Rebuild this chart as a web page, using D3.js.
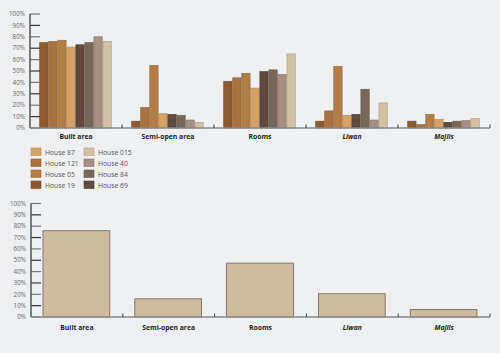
<!DOCTYPE html>
<html><head><meta charset="utf-8">
<script src="https://cdn.jsdelivr.net/npm/d3@7"></script>
<style>body{margin:0;background:#eff0f2;}svg{display:block;}</style>
</head><body>
<script>
const categories = ["Built area","Semi-open area","Rooms","Liwan","Majlis"];
const houses = ["House 19","House 121","House 05","House 87","House 69","House 84","House 40","House 015"];
const houseValues = {
  "House 19":  [75, 6, 41, 6, 6],
  "House 121": [76, 18, 44, 15, 3],
  "House 05":  [77, 55, 48, 54, 12],
  "House 87":  [71, 12.5, 35, 11, 7.5],
  "House 69":  [73, 12, 49.5, 12, 5],
  "House 84":  [75, 11, 51, 34, 6],
  "House 40":  [80, 7, 47, 7, 6.5],
  "House 015": [76, 5, 65, 22, 8.5]
};
const averageValues = [76, 16, 47.5, 20.5, 6.5];
const yTicks = [0,10,20,30,40,50,60,70,80,90,100];
const legendOrder = [["House 87","House 015"],["House 121","House 40"],["House 05","House 84"],["House 19","House 69"]];
const colors = {
  "House 19":"#8d5a2f","House 121":"#a8733f","House 05":"#b27e46","House 87":"#d4a267",
  "House 69":"#5e4a3e","House 84":"#786857","House 40":"#a78f81","House 015":"#d2c1a2"
};
const avgColor = "#cdbc9f";

const svg = d3.select("body").append("svg").attr("width",500).attr("height",353);
svg.append("rect").attr("width",500).attr("height",353).attr("fill","#eff0f2");

function axes(g, y, x0, left, right, labelY){
  yTicks.forEach(t=>{
    g.append("line").attr("x1",left).attr("x2",left+10).attr("y1",y(t)).attr("y2",y(t))
      .attr("stroke", t%20===10 ? "#333" : "#777").attr("stroke-width",1.2);
    g.append("text").attr("x",left-5).attr("y",y(t)+2.2).attr("text-anchor","end")
      .attr("font-family","Open Sans, sans-serif").attr("font-size",6.3).attr("fill","#666")
      .text(t+"%");
  });
  g.append("line").attr("x1",left).attr("x2",left).attr("y1",y(100)).attr("y2",y(0))
    .attr("stroke","#555").attr("stroke-width",1.5);
  g.append("line").attr("x1",left).attr("x2",right).attr("y1",y(0)).attr("y2",y(0))
    .attr("stroke","#8a8a8a").attr("stroke-width",1.6);
  categories.forEach((c,i)=>{
    const xe = x0(c)+x0.bandwidth();
    g.append("line").attr("x1",xe).attr("x2",xe).attr("y1",y(0)).attr("y2",y(0)-3.5)
      .attr("stroke","#444").attr("stroke-width",1);
    g.append("text").attr("x",x0(c)+x0.bandwidth()/2).attr("y",labelY).attr("text-anchor","middle")
      .attr("font-family","Open Sans, sans-serif").attr("font-weight","bold").attr("font-size",6.8)
      .attr("font-style", (c==="Liwan"||c==="Majlis")?"italic":"normal")
      .attr("fill","#222").text(c);
  });
}

// Top chart
const gTop = svg.append("g");
const x0 = d3.scaleBand().domain(categories).range([30,490]);
const x1 = d3.scaleBand().domain(houses).range([9, x0.bandwidth()-10]).padding(0.08);
const yT = d3.scaleLinear().domain([0,100]).range([128,14]);
houses.forEach(h=>{
  gTop.selectAll(null).data(houseValues[h]).enter().append("rect")
    .attr("x",(d,i)=>x0(categories[i])+x1(h))
    .attr("y",d=>yT(d))
    .attr("width",x1.bandwidth())
    .attr("height",d=>yT(0)-yT(d))
    .attr("fill",colors[h])
    .attr("stroke",d3.color(colors[h]).darker(0.6)).attr("stroke-width",0.6);
});
axes(gTop, yT, x0, 30, 490, 139);

// Legend
const leg = svg.append("g");
legendOrder.forEach((row,r)=>{
  row.forEach((h,c)=>{
    const lx = 31 + c*53, ly = 148 + r*11;
    leg.append("rect").attr("x",lx).attr("y",ly).attr("width",10).attr("height",7.5)
      .attr("fill",colors[h]).attr("stroke",d3.color(colors[h]).darker(0.5)).attr("stroke-width",0.6);
    leg.append("text").attr("x",lx+14).attr("y",ly+6.5)
      .attr("font-family","Open Sans, sans-serif").attr("font-size",6.8).attr("fill","#555").text(h);
  });
});

// Bottom chart
const gBot = svg.append("g");
const xb = d3.scaleBand().domain(categories).range([31,490]);
const yB = d3.scaleLinear().domain([0,100]).range([317,203.5]);
gBot.selectAll(null).data(averageValues).enter().append("rect")
  .attr("x",(d,i)=>xb(categories[i])+12)
  .attr("y",d=>yB(d))
  .attr("width",xb.bandwidth()-25)
  .attr("height",d=>yB(0)-yB(d))
  .attr("fill",avgColor).attr("stroke","#6b6257").attr("stroke-width",0.8);
axes(gBot, yB, xb, 31, 490, 330);
</script>
</body></html>
